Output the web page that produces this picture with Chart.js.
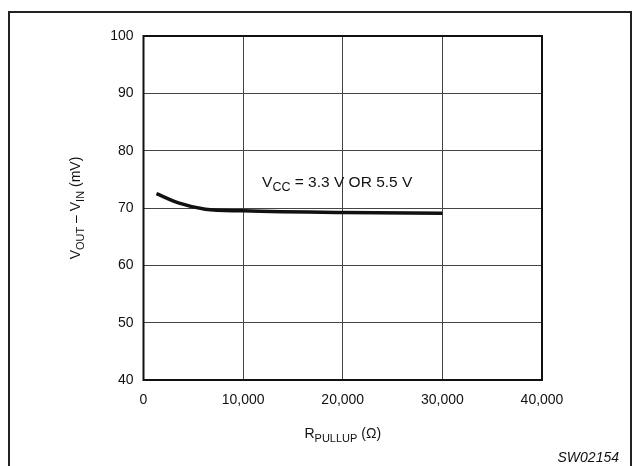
<!DOCTYPE html>
<html>
<head>
<meta charset="utf-8">
<script src="https://cdn.jsdelivr.net/npm/chart.js@4"></script>
<style>
  html, body { margin: 0; padding: 0; background: #fff; }
  #wrap { position: relative; width: 634px; height: 466px; }
</style>
</head>
<body>
<div id="wrap"><canvas id="grafico" width="634" height="466"></canvas></div>
<script>
// dados
const rPullup = [1300, 3500, 6200, 10000, 20000, 30000];
const vDiff = [72.5, 70.9, 69.8, 69.5, 69.2, 69.1];
const xTicks = [0, 10000, 20000, 30000, 40000];
const yTicks = [40, 50, 60, 70, 80, 90, 100];

const fonte = "Liberation Sans, Arial, Helvetica, sans-serif";

// desenha texto com subscrito: partes = [[texto, sub?], ...]
function textoSub(ctx, partes, x, y, tam, alinhar) {
  let largura = 0;
  partes.forEach(p => {
    ctx.font = (p[1] ? tam - 3 : tam) + "px " + fonte;
    largura += ctx.measureText(p[0]).width;
  });
  let cx = alinhar === "center" ? x - largura / 2 : x;
  ctx.textAlign = "left";
  ctx.textBaseline = "alphabetic";
  partes.forEach(p => {
    ctx.font = (p[1] ? tam - 3 : tam) + "px " + fonte;
    ctx.fillText(p[0], cx, p[1] ? y + 4 : y);
    cx += ctx.measureText(p[0]).width;
  });
}

const extras = {
  id: "extras",
  afterDraw(chart) {
    const ctx = chart.ctx;
    const a = chart.chartArea;
    const sx = chart.scales.x, sy = chart.scales.y;
    ctx.save();
    // moldura externa
    ctx.strokeStyle = "#222";
    ctx.lineWidth = 2;
    ctx.beginPath();
    ctx.moveTo(9, 470); ctx.lineTo(9, 12); ctx.lineTo(631, 12); ctx.lineTo(631, 470);
    ctx.stroke();
    // borda da área do gráfico
    ctx.lineWidth = 2;
    ctx.strokeStyle = "#111";
    ctx.strokeRect(a.left, a.top, a.right - a.left, a.bottom - a.top);

    ctx.fillStyle = "#111";
    // rótulo da curva
    textoSub(ctx, [["V", false], ["CC", true], [" = 3.3 V OR 5.5 V", false]],
      sx.getPixelForValue(11900), sy.getPixelForValue(73.6), 15.5, "left");
    // título do eixo x
    textoSub(ctx, [["R", false], ["PULLUP", true], [" (Ω)", false]],
      (a.left + a.right) / 2, 438, 14, "center");
    // título do eixo y
    ctx.translate(80, (a.top + a.bottom) / 2);
    ctx.rotate(-Math.PI / 2);
    textoSub(ctx, [["V", false], ["OUT", true], [" – V", false], ["IN", true], [" (mV)", false]],
      0, 0, 14, "center");
    ctx.restore();

    ctx.save();
    ctx.fillStyle = "#111";
    ctx.font = "italic 14px " + fonte;
    ctx.textAlign = "right";
    ctx.fillText("SW02154", 619, 462);
    ctx.restore();
  }
};

const config = {
  type: "line",
  data: {
    datasets: [{
      data: rPullup.map((r, i) => ({ x: r, y: vDiff[i] })),
      borderColor: "#111",
      borderWidth: 3.5,
      pointRadius: 0,
      cubicInterpolationMode: "monotone",
      fill: false
    }]
  },
  options: {
    responsive: false,
    animation: false,
    layout: { padding: { left: 0, right: 92, top: 36, bottom: 0 } },
    plugins: { legend: { display: false }, tooltip: { enabled: false } },
    scales: {
      x: {
        type: "linear",
        min: 0, max: 40000,
        afterBuildTicks: s => { s.ticks = xTicks.map(v => ({ value: v })); },
        afterFit: s => { s.height = 86; },
        grid: { color: "#444", lineWidth: 1, drawTicks: false },
        border: { display: false },
        ticks: {
          padding: 12,
          color: "#111",
          font: { family: fonte, size: 14 },
          callback: v => v.toLocaleString("en-US")
        }
      },
      y: {
        min: 40, max: 100,
        afterBuildTicks: s => { s.ticks = yTicks.map(v => ({ value: v })); },
        afterFit: s => { s.width = 143.5; },
        grid: { color: "#444", lineWidth: 1, drawTicks: false },
        border: { display: false },
        ticks: {
          padding: 10,
          color: "#111",
          font: { family: fonte, size: 14 }
        }
      }
    }
  },
  plugins: [extras]
};

new Chart(document.getElementById("grafico"), config);
</script>
</body>
</html>
